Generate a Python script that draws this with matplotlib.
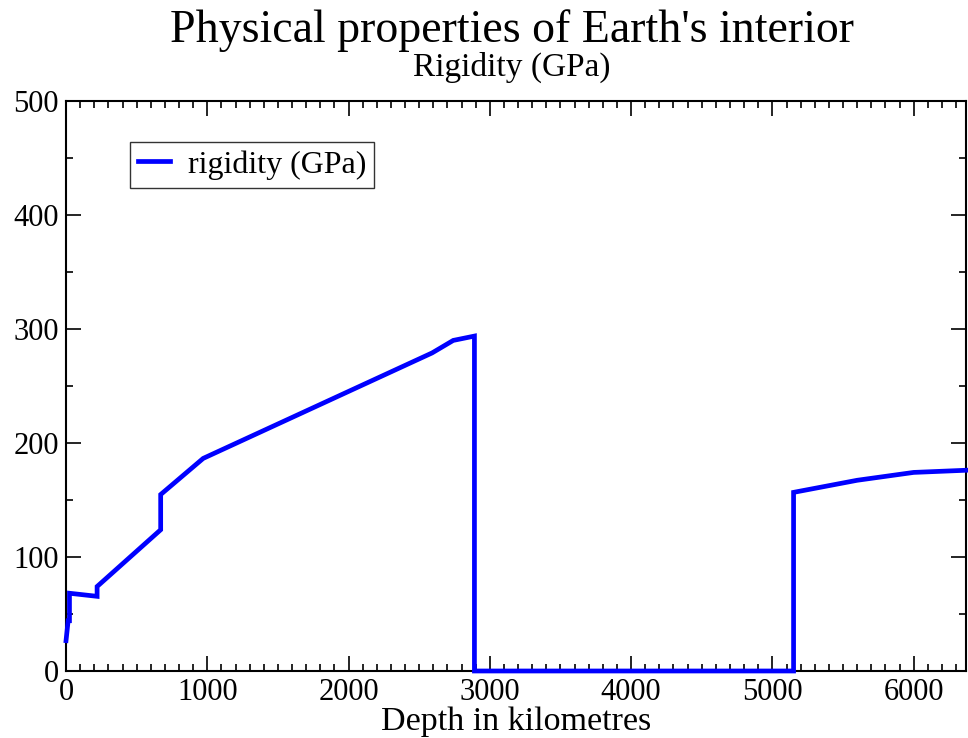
import numpy as np
import matplotlib
matplotlib.use('Agg')
import matplotlib.pyplot as plt
from matplotlib.ticker import MultipleLocator

# PREM-like rigidity profile
depth = [0, 15, 24.4, 24.4, 220, 220, 670, 670, 971, 2591, 2741, 2891,
         2891, 5150, 5150, 5600, 6000, 6371]
rigidity = [26.6, 44.1, 44.1, 68.2, 65.5, 74.1, 123.9, 154.8, 186.5, 279.0, 290.0, 293.8,
            0.0, 0.0, 156.7, 167.3, 174.2, 176.1]

plt.rcParams['font.family'] = ['Liberation Serif', 'DejaVu Serif']

fig = plt.figure(figsize=(9.68, 7.38), dpi=100)
ax = fig.add_axes([0.0682, 0.0908, 0.9298, 0.7723])

ax.plot(depth, rigidity, color='#0000ff', lw=3.4, label='rigidity (GPa)',
        solid_joinstyle='miter', clip_on=False, zorder=3)

ax.set_xlim(0, 6371)
ax.set_ylim(0, 500)
ax.xaxis.set_major_locator(MultipleLocator(1000))
ax.xaxis.set_minor_locator(MultipleLocator(100))
ax.yaxis.set_major_locator(MultipleLocator(100))
ax.yaxis.set_minor_locator(MultipleLocator(50))
ax.tick_params(which='both', direction='in', top=True, right=True,
               width=1.2, labelsize=22, pad=5)
ax.tick_params(which='major', length=11)
ax.tick_params(which='minor', length=5)
for sp in ax.spines.values():
    sp.set_linewidth(1.5)

ax.set_xlabel('Depth in kilometres', fontsize=24.5, labelpad=0)

fig.text(0.529, 0.959, "Physical properties of Earth's interior", fontsize=33,
         ha='center', va='center')
fig.text(0.529, 0.909, 'Rigidity (GPa)', fontsize=24, ha='center', va='center')

leg = ax.legend(loc='upper left', bbox_to_anchor=(0.0711, 0.928), fontsize=23,
                frameon=True, fancybox=False, handlelength=1.0,
                borderpad=0.25, handletextpad=0.55, borderaxespad=0)
leg.get_frame().set_edgecolor('black')
leg.get_frame().set_linewidth(1.0)

fig.savefig('out.png', dpi=100)
